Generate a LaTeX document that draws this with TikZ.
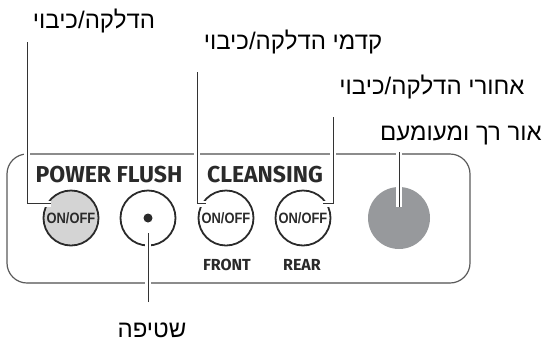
\documentclass[tikz,border=0pt]{standalone}
\usepackage{fontspec}
\TeXXeTstate=1
\newfontfamily\hebfont[Script=Hebrew]{Liberation Sans}
\newfontfamily\panelfont{Fira Sans}
\newfontfamily\keyfont[FakeStretch=0.86]{Liberation Sans}
\definecolor{panelgray}{HTML}{5A5A5A}
\definecolor{rimgray}{HTML}{8C8C8C}
\definecolor{inkgray}{HTML}{2A2A2A}
\definecolor{powergray}{HTML}{D4D4D4}
\definecolor{lampgray}{HTML}{97999C}
\tikzset{
  hebtext/.style={font=\hebfont\fontsize{24}{28}\selectfont, anchor=base, inner sep=0pt},
  caption/.style={font=\panelfont\bfseries\fontsize{23}{26}\selectfont, text=inkgray, anchor=base, inner sep=0pt},
  subcap/.style={font=\panelfont\bfseries\fontsize{16}{18}\selectfont, text=inkgray, anchor=base, inner sep=0pt},
  knob/.style={circle, draw=inkgray, line width=1.8pt, minimum size=55pt, inner sep=0pt,
    font=\keyfont\bfseries\fontsize{15}{17}\selectfont, text=inkgray},
  leader/.style={draw=black!80, line width=0.9pt, preaction={draw=white, line width=6pt}},
}
\begin{document}
\begin{tikzpicture}[x=1pt,y=-1pt]
  \useasboundingbox (0,0) rectangle (549,346);
  % panel
  \draw[panelgray, line width=1.2pt, rounded corners=20pt] (7,154) rectangle (470,283);
  \draw[rimgray, line width=2.4pt] (27,154) -- (450,154);
  \draw[rimgray, line width=2pt] (27,283) -- (450,283);
  % buttons
  \node[knob, fill=powergray] (pwr) at (71,218) {ON/OFF};
  \node[knob] (fls) at (148,218) {};
  \fill[inkgray] (fls) circle (4.5pt);
  \node[knob] (frt) at (226,218) {ON/OFF};
  \node[knob] (rer) at (303,218) {ON/OFF};
  \node[circle, fill=lampgray, minimum size=62pt] (lamp) at (399,218) {};
  \node[caption] (pwrcap) at (109,182) {POWER FLUSH};
  \node[caption] (clncap) at (265,182) {CLEANSING};
  \node[subcap] (frtcap) at (227,270) {FRONT};
  \node[subcap] (rercap) at (302,270) {REAR};
  % hebrew labels
  \node[hebtext] (pwrtxt) at (94,28) {\beginR הדלקה/כיבוי\endR};
  \node[hebtext] (frttxt) at (293,49) {\beginR קדמי הדלקה/כיבוי\endR};
  \node[hebtext] (rertxt) at (432,94) {\beginR אחורי הדלקה/כיבוי\endR};
  \node[hebtext] (lamptxt) at (461,140) {\beginR אור רך ומעומעם\endR};
  \node[hebtext] (flstxt) at (152,337) {\beginR שטיפה\endR};
  % leaders
  \coordinate (pwrtop) at (27,42);
  \coordinate (frttop) at (197,72);
  \coordinate (rertop) at (333,117);
  \coordinate (lamptop) at (399,152);
  \coordinate (flsbot) at (148,302);
  \draw[leader, shorten >=-5pt] (pwrtop) |- (pwr.150);
  \draw[leader, shorten >=-5pt] (frttop) |- (frt.150);
  \draw[leader, shorten >=-5pt] (rertop) |- (rer.30);
  \draw[leader, shorten >=-20pt] (lamptop) -- (lamp.north);
  \draw[leader, shorten >=-13pt] (flsbot) -- (fls.south);
\end{tikzpicture}
\end{document}
